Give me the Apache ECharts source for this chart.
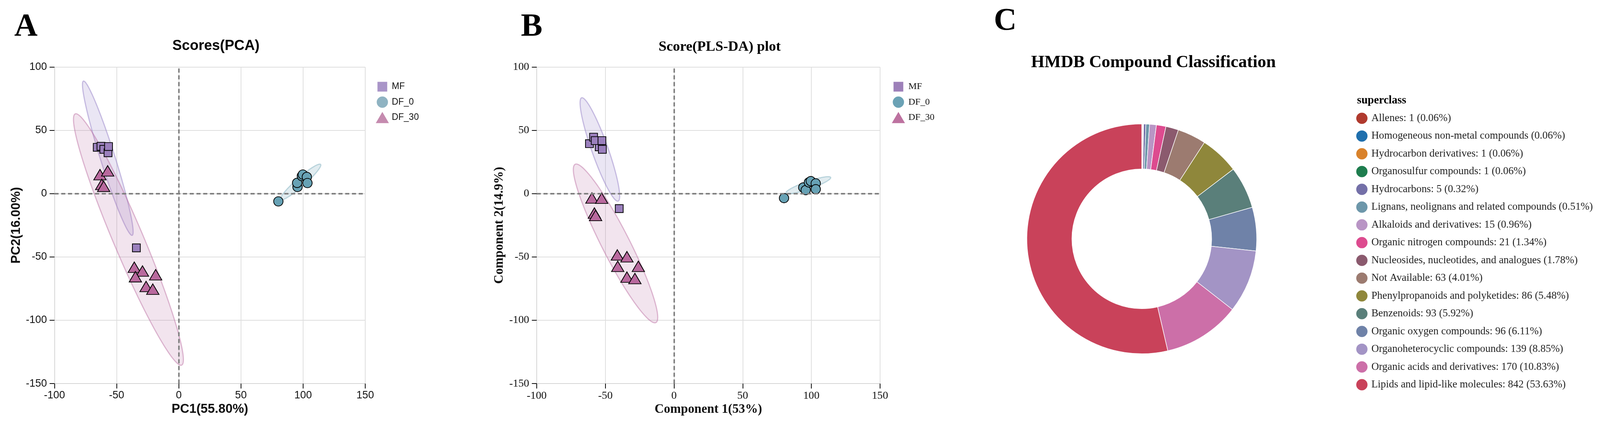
<!DOCTYPE html>
<html>
<head>
<meta charset="utf-8">
<script src="https://cdn.jsdelivr.net/npm/echarts@6/dist/echarts.min.js"></script>
<style>
html,body{margin:0;padding:0;background:#ffffff;overflow:hidden;}
#chart{position:absolute;left:0;top:0;}
</style>
</head>
<body>
<div id="chart"></div>
<script>
// ---------------- DATA ----------------
const groups = ['MF', 'DF_0', 'DF_30'];

// Panel A: PCA scores [PC1, PC2]
const pcaMF = [[-65.6, 36.6], [-62.6, 37.4], [-60.3, 35.0], [-56.9, 32.3], [-56.5, 37.2], [-34.1, -42.8]];
const pcaDF0 = [[80.1, -6.1], [95.5, 5.3], [95.2, 8.5], [99.0, 13.9], [99.8, 15.1], [103.0, 13.2], [103.5, 8.4]];
const pcaDF30 = [[-63.4, 15.0], [-57.2, 18.0], [-62.0, 7.3], [-60.4, 5.8], [-35.8, -58.1], [-29.2, -61.1],
                 [-18.6, -64.0], [-34.9, -65.6], [-26.3, -73.3], [-20.9, -75.4]];

// Panel B: PLS-DA scores [Component 1, Component 2]
const plsMF = [[-61.6, 39.5], [-58.6, 44.6], [-54.5, 37.0], [-57.4, 41.9], [-52.5, 41.9], [-52.2, 35.0], [-39.9, -11.8]];
const plsDF0 = [[80.1, -3.5], [94.1, 4.9], [95.9, 2.8], [98.2, 8.9], [99.6, 9.9], [103.2, 8.1], [103.2, 3.5]];
const plsDF30 = [[-59.8, -3.4], [-52.7, -3.6], [-58.0, -15.3], [-57.1, -17.2], [-41.3, -48.4], [-34.3, -49.8],
                 [-41.0, -57.4], [-26.0, -57.4], [-34.3, -65.9], [-28.5, -67.0]];

// Confidence ellipses: [centerX, centerY, majorHalfX, majorHalfY, minorHalfX, minorHalfY] (data units)
const pcaEllipseMF = [-57.1, 28.0, -19.6, 60.9, 5.59, 1.74];
const pcaEllipseDF0 = [98.0, 9.2, 16.1, 13.9, 2.33, -2.61];
const pcaEllipseDF30 = [-40.5, -36.2, -42.8, 99.2, 11.1, 4.64];
const plsEllipseMF = [-54.0, 34.9, -13.3, 40.8, 5.6, 2.13];
const plsEllipseDF0 = [97.8, 6.65, 16.3, 6.15, 0.93, -2.87];
const plsEllipseDF30 = [-42.6, -39.3, -29.4, 62.5, 8.97, 4.94];

// Axis ticks
const xTicks = [-100, -50, 0, 50, 100, 150];
const yTicks = [-150, -100, -50, 0, 50, 100];

// Panel C: HMDB superclass
const hmdbNames = ['Allenes', 'Homogeneous non-metal compounds', 'Hydrocarbon derivatives', 'Organosulfur compounds',
  'Hydrocarbons', 'Lignans, neolignans and related compounds', 'Alkaloids and derivatives', 'Organic nitrogen compounds',
  'Nucleosides, nucleotides, and analogues', 'Not Available', 'Phenylpropanoids and polyketides', 'Benzenoids',
  'Organic oxygen compounds', 'Organoheterocyclic compounds', 'Organic acids and derivatives', 'Lipids and lipid-like molecules'];
const hmdbValues = [1, 1, 1, 1, 5, 8, 15, 21, 28, 63, 86, 93, 96, 139, 170, 842];
const hmdbShowCount = [true, false, true, true, true, false, true, true, false, true, true, true, true, true, true, true];
const hmdbColors = ['#b03a2e', '#1f6fad', '#d9822b', '#1e7d4e', '#7470a8', '#6d97aa', '#b995c5', '#dd4b8f',
  '#8b5a6e', '#9c7b70', '#8f873b', '#5a7f7a', '#6f82a8', '#a394c5', '#cc6fa8', '#c9425a'];

// ---------------- LAYOUT (designed for 4260 x 1124, scaled to the viewport) ----------------
const W = window.innerWidth || 4260;
const H = window.innerHeight || 1124;
const s = Math.min(W / 4260, H / 1124);
const S = v => v * s;
const dom = document.getElementById('chart');
dom.style.width = W + 'px';
dom.style.height = H + 'px';

const SANS = "'Liberation Sans', Arial, sans-serif";
const SERIF = "'Liberation Serif', 'Times New Roman', serif";
const markerColors = ['#9b80bd', '#67a2b5', '#b9699e'];
const legendColorsA = ['#a995c8', '#8fb3c2', '#c58baf'];
const legendColorsB = ['#9d80b9', '#6ba2b5', '#bd72a0'];
const ellFill = ['rgba(150,130,200,0.2)', 'rgba(104,162,181,0.2)', 'rgba(185,105,158,0.18)'];
const ellStroke = ['rgba(150,130,200,0.5)', 'rgba(104,162,181,0.4)', 'rgba(185,105,158,0.45)'];
const symbols = ['rect', 'circle', 'triangle'];
const symbolSizes = [S(21), S(25), [S(33), S(28)]];
// legend icons drawn inside a fixed 35 x 41 cell (row pitch 41) / 30 x 47.3 cell (row pitch 47.3)
const BOX_AB = 'M0,0h0.01M35,41h-0.01';
const legendIconsAB = [
  'path://' + BOX_AB + 'M4.5,7.5h26v26h-26z',
  'path://' + BOX_AB + 'M2.5,20.5a15,15 0 1,0 30,0a15,15 0 1,0 -30,0z',
  'path://' + BOX_AB + 'M0,35.5L17.5,5.5L35,35.5z'
];
const legendIconC = 'path://M0,0h0.01M30,47.3h-0.01M0,23.65a15,15 0 1,0 30,0a15,15 0 1,0 -30,0z';

function ellipseRenderer(gi) {
  return function (params, api) {
    const cx = api.value(0), cy = api.value(1), ax = api.value(2), ay = api.value(3), bx = api.value(4), by = api.value(5);
    const pts = [];
    const n = 160;
    for (let i = 0; i < n; i++) {
      const t = 2 * Math.PI * i / n;
      pts.push(api.coord([cx + ax * Math.cos(t) + bx * Math.sin(t), cy + ay * Math.cos(t) + by * Math.sin(t)]));
    }
    return { type: 'polygon', shape: { points: pts }, style: { fill: ellFill[gi], stroke: ellStroke[gi], lineWidth: S(3) } };
  };
}

function makeAxes(gi, font, labelSize, xName, yName, yNameGap) {
  const common = {
    gridIndex: gi, type: 'value', interval: 50,
    axisLine: { show: true, onZero: false, lineStyle: { color: '#d6d6d6', width: S(2) } },
    axisTick: { show: true, length: S(13), lineStyle: { color: '#000', width: S(2) } },
    splitLine: { show: true, lineStyle: { color: '#dedede', width: S(2) } },
    nameLocation: 'middle',
    nameTextStyle: { fontFamily: font, fontSize: S(34), fontWeight: 'bold', color: '#111' }
  };
  const x = Object.assign({}, common, {
    min: xTicks[0], max: xTicks[xTicks.length - 1], name: xName, nameGap: S(48),
    axisLabel: { fontFamily: font, fontSize: S(labelSize), color: '#111', margin: S(18) }
  });
  const y = Object.assign({}, common, {
    min: yTicks[0], max: yTicks[yTicks.length - 1], name: yName, nameGap: S(yNameGap),
    axisLabel: { fontFamily: font, fontSize: S(labelSize), color: '#111', margin: S(20) }
  });
  return [x, y];
}

function panelSeries(gi, pts, ells) {
  const out = [];
  ells.forEach((e, k) => {
    out.push({ type: 'custom', name: groups[k] + ' ellipse', xAxisIndex: gi, yAxisIndex: gi, z: 2, silent: true,
      renderItem: ellipseRenderer(k), data: [e] });
  });
  out.push({ type: 'line', name: 'zero', xAxisIndex: gi, yAxisIndex: gi, z: 1, data: [], silent: true,
    markLine: { silent: true, symbol: 'none', label: { show: false },
      lineStyle: { type: [S(11), S(7)], color: '#808080', width: S(4) },
      data: [{ xAxis: 0 }, { yAxis: 0 }] } });
  pts.forEach((p, k) => {
    out.push({ type: 'scatter', name: groups[k], xAxisIndex: gi, yAxisIndex: gi, z: 3,
      symbol: symbols[k], symbolSize: symbolSizes[k],
      itemStyle: { color: markerColors[k], borderColor: '#000', borderWidth: S(2), opacity: 1 },
      data: p });
  });
  return out;
}

const total = hmdbValues.reduce((a, b) => a + b, 0);
const labelMap = {};
hmdbNames.forEach((n, i) => {
  const pct = (hmdbValues[i] / total * 100).toFixed(2);
  labelMap[n] = n + (hmdbShowCount[i] ? ': ' + hmdbValues[i] : '') + ' (' + pct + '%)';
});

const axA = makeAxes(0, SANS, 28, 'PC1(55.80%)', 'PC2(16.00%)', 84);
const axB = makeAxes(1, SERIF, 29, 'Component 1(53%)', 'Component 2(14.9%)', 82);

function txt(x, y, text, weightSize, family, align) {
  return { type: 'text', x: S(x), y: S(y), silent: true,
    style: { text: text, font: 'bold ' + S(weightSize) + 'px ' + family, fill: '#000', align: align, verticalAlign: 'middle',
      textAlign: align, textVerticalAlign: 'middle' } };
}

const option = {
  backgroundColor: '#ffffff',
  animation: false,
  grid: [
    { left: S(145), top: S(178.5), width: S(827.5), height: S(843) },
    { left: S(1429), top: S(178.5), width: S(914), height: S(843) }
  ],
  xAxis: [axA[0], axB[0]],
  yAxis: [axA[1], axB[1]],
  legend: [
    { left: S(1000.5), top: S(210.5), padding: 0, orient: 'vertical', itemWidth: S(35), itemHeight: S(41), itemGap: 0, selectedMode: false,
      itemStyle: { borderWidth: 0 },
      textStyle: { fontFamily: SANS, fontSize: S(24), color: '#111', padding: [0, 0, 0, S(2.5)] },
      data: groups.map((g, i) => ({ name: g, icon: legendIconsAB[i], itemStyle: { color: legendColorsA[i], borderWidth: 0 } })) },
    { left: S(2374.5), top: S(210.5), padding: 0, orient: 'vertical', itemWidth: S(35), itemHeight: S(41), itemGap: 0, selectedMode: false,
      itemStyle: { borderWidth: 0 },
      textStyle: { fontFamily: SERIF, fontSize: S(25), color: '#111', padding: [0, 0, 0, S(4)] },
      data: groups.map((g, i) => ({ name: g, icon: legendIconsAB[i], itemStyle: { color: legendColorsB[i], borderWidth: 0 } })) },
    { left: S(3611), top: S(291.3), padding: 0, orient: 'vertical', itemWidth: S(30), itemHeight: S(47.3), itemGap: 0, selectedMode: false,
      icon: legendIconC,
      itemStyle: { borderWidth: 0 },
      textStyle: { fontFamily: SERIF, fontSize: S(28), color: '#222', padding: [0, 0, 0, S(5)] },
      formatter: function (name) { return labelMap[name]; },
      data: hmdbNames.map((n, i) => ({ name: n, itemStyle: { color: hmdbColors[i], borderWidth: 0 } })) }
  ],
  graphic: [
    txt(38, 72, 'A', 86, SERIF, 'left'),
    txt(1387, 72, 'B', 86, SERIF, 'left'),
    txt(2646, 57, 'C', 84, SERIF, 'left'),
    txt(575, 123, 'Scores(PCA)', 38, SANS, 'center'),
    txt(1916, 125, 'Score(PLS-DA) plot', 38, SERIF, 'center'),
    txt(3071, 167, 'HMDB Compound Classification', 46, SERIF, 'center'),
    txt(3613, 268, 'superclass', 30, SERIF, 'left')
  ],
  series: [].concat(
    panelSeries(0, [pcaMF, pcaDF0, pcaDF30], [pcaEllipseMF, pcaEllipseDF0, pcaEllipseDF30]),
    panelSeries(1, [plsMF, plsDF0, plsDF30], [plsEllipseMF, plsEllipseDF0, plsEllipseDF30]),
    [{
      type: 'pie', name: 'superclass', center: [S(3040), S(636)], radius: [S(186), S(306)], startAngle: 90, clockwise: true,
      label: { show: false }, labelLine: { show: false }, silent: true,
      itemStyle: { borderColor: '#ffffff', borderWidth: S(1.5) },
      data: hmdbNames.map((n, i) => ({ name: n, value: hmdbValues[i], itemStyle: { color: hmdbColors[i] } }))
    }]
  )
};

const chart = echarts.init(dom, null, { renderer: 'canvas', width: W, height: H });
chart.setOption(option);
</script>
</body>
</html>
